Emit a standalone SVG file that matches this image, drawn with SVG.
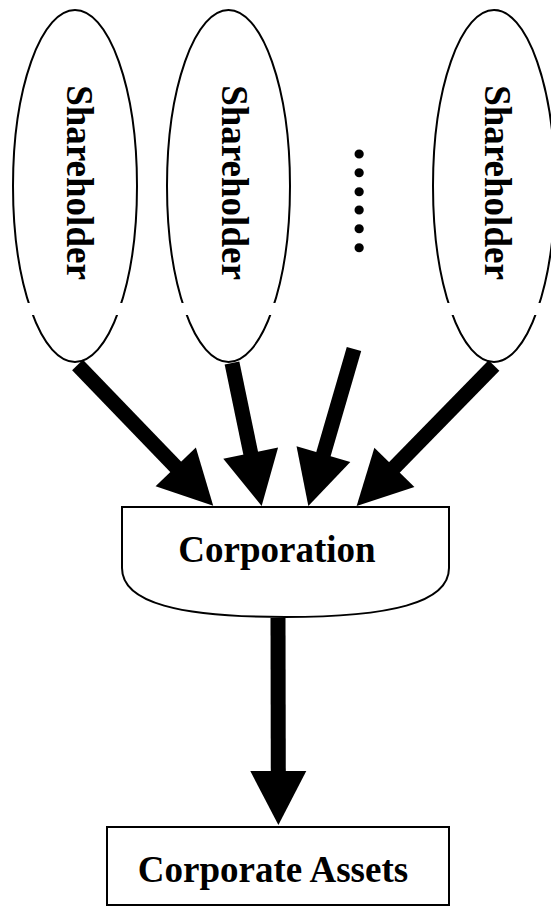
<svg xmlns="http://www.w3.org/2000/svg" width="551" height="907" viewBox="0 0 551 907">
<style>
.fill{fill:#fff;stroke:none}
.ol{fill:none;stroke:#000;stroke-width:2}
.lbl{font-family:"Liberation Serif","Times New Roman",serif;font-weight:bold;font-size:37px;fill:#000}
.conn{stroke:#000;stroke-width:15;fill:none}
</style>
<defs>
<clipPath id="gap">
<rect x="0" y="0" width="551" height="303"/>
<rect x="0" y="315" width="551" height="592"/>
</clipPath>
<marker id="ah" markerUnits="userSpaceOnUse" markerWidth="54" markerHeight="56" refX="4" refY="28" orient="auto" overflow="visible">
<path d="M0,0 L54,28 L0,56 Z" fill="#000"/>
</marker>
</defs>
<rect width="551" height="907" fill="#fff"/>
<g id="shareholder1">
<ellipse class="fill" cx="75" cy="186" rx="62" ry="176"/>
<ellipse class="ol" cx="75" cy="186" rx="62" ry="176" clip-path="url(#gap)"/>
<text class="lbl" text-anchor="middle" transform="translate(67,182.5) rotate(90)">Shareholder</text>
</g>
<g id="shareholder2">
<ellipse class="fill" cx="228.5" cy="186" rx="61.5" ry="176"/>
<ellipse class="ol" cx="228.5" cy="186" rx="61.5" ry="176" clip-path="url(#gap)"/>
<text class="lbl" text-anchor="middle" transform="translate(222,182.5) rotate(90)">Shareholder</text>
</g>
<g id="more">
<text class="lbl" style="font-size:56px" transform="translate(355,144.7) rotate(90)">……</text>
</g>
<g id="shareholder3">
<ellipse class="fill" cx="494" cy="186" rx="61" ry="176"/>
<ellipse class="ol" cx="494" cy="186" rx="61" ry="176" clip-path="url(#gap)"/>
<text class="lbl" text-anchor="middle" transform="translate(485,182.5) rotate(90)">Shareholder</text>
</g>
<g id="corporation">
<path class="ol" d="M122,507 H449 V568 C449,603 390,617 285,617 C180,617 122,603 122,568 Z" style="fill:#fff"/>
<text class="lbl" x="277" y="562" text-anchor="middle">Corporation</text>
</g>
<g id="assets">
<rect class="ol" x="107" y="827" width="342" height="78" style="fill:#fff"/>
<text class="lbl" x="273" y="882" text-anchor="middle">Corporate Assets</text>
</g>
<g id="connectors">
<line class="conn" x1="77.5" y1="365" x2="178.5" y2="469.7" marker-end="url(#ah)"/>
<line class="conn" x1="232" y1="363" x2="251.5" y2="457" marker-end="url(#ah)"/>
<line class="conn" x1="354" y1="349" x2="322.3" y2="458" marker-end="url(#ah)"/>
<line class="conn" x1="494" y1="365.5" x2="391.6" y2="470.2" marker-end="url(#ah)"/>
<line class="conn" x1="278" y1="618" x2="278.3" y2="775" marker-end="url(#ah)"/>
</g>
</svg>
